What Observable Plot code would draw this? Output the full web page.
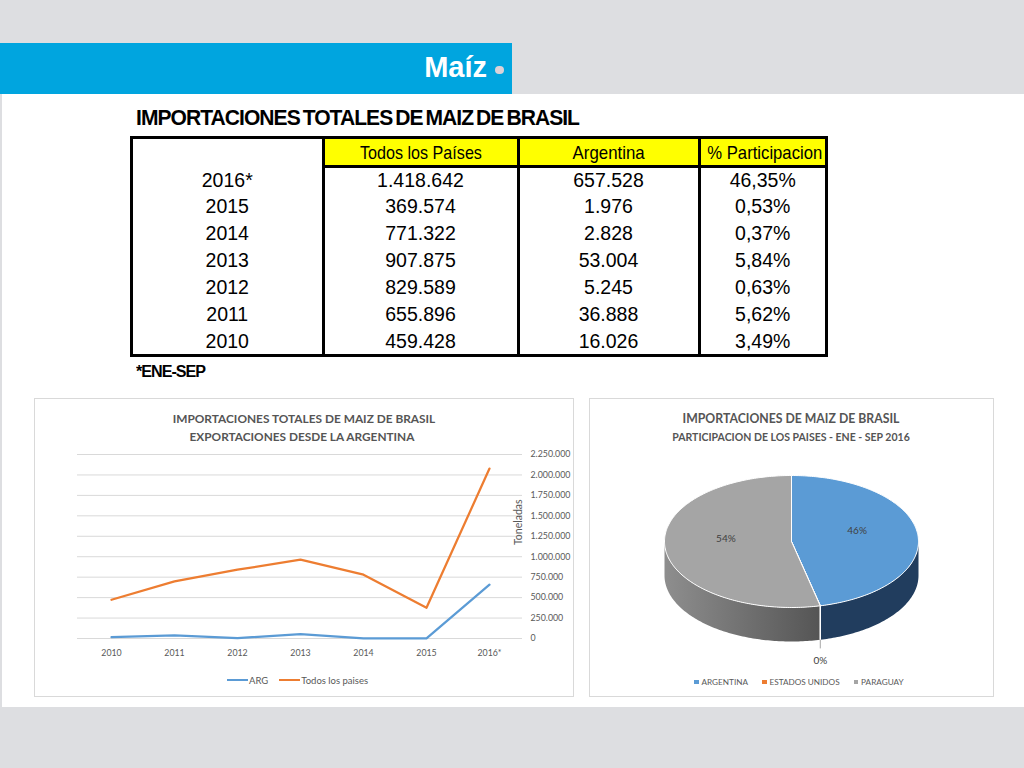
<!DOCTYPE html>
<html lang="es"><head><meta charset="utf-8">
<script src="https://cdn.jsdelivr.net/npm/d3@7"></script>
<script src="https://cdn.jsdelivr.net/npm/@observablehq/plot@0.6"></script>
<style>
html,body{margin:0;padding:0}
body{width:1024px;height:768px;position:relative;overflow:hidden;background:#dddee1;font-family:Lato,"Open Sans",sans-serif}
.a{position:absolute}
#white{left:2px;top:94px;width:1022px;height:613px;background:#fff}
#band{left:0;top:43px;width:512px;height:51px;background:#00a5df}
#maiz{top:53px;right:537px;font:bold 29px "Liberation Sans",Arial,sans-serif;color:#fff;line-height:29px;white-space:nowrap}
#dot{left:495px;top:65.5px;width:8.5px;height:8.5px;border-radius:50%;background:#dcd2d8}
#ttitle{left:136px;top:107px;font:bold 22px "Liberation Sans Narrow","Liberation Sans",sans-serif;letter-spacing:-1px;word-spacing:-2px;line-height:22px;white-space:nowrap;transform-origin:0 50%;color:#000}
#foot{left:136px;top:364px;font:bold 16px "Liberation Sans Narrow","Liberation Sans",sans-serif;letter-spacing:-1px;line-height:16px;white-space:nowrap;transform-origin:0 50%;color:#000}
#tbox{left:130px;top:136px;width:698px;height:221px;border:3px solid #000;box-sizing:border-box}
.hd{position:absolute;top:0;height:26px;background:#ffff00;text-align:center;font:18.5px "Liberation Sans",Arial,sans-serif;line-height:27px;color:#000;white-space:nowrap}
.hd span{display:inline-block;transform-origin:50% 50%}
.cell{position:absolute;text-align:center;font:19.5px "Liberation Sans",Arial,sans-serif;color:#000;white-space:nowrap}
.vd{position:absolute;top:0;width:3px;height:100%;background:#000}
.panel{border:1px solid #d9d9d9;box-sizing:border-box;background:#fff}
.ctitle{position:absolute;text-align:center;font-weight:bold;color:#555;white-space:nowrap;line-height:1}
.leg{position:absolute;display:flex;align-items:center;font-size:9.5px;color:#595959;white-space:nowrap}
.leg .ln{display:inline-block;width:21px;height:2.5px;margin-right:1px}
.leg .sq{display:inline-block;width:4.5px;height:4.5px;margin-right:3px}
svg{position:absolute}
</style>
</head>
<body>
<div id="white" class="a"></div>
<div id="band" class="a"></div>
<div id="maiz" class="a">Maíz</div>
<div id="dot" class="a"></div>
<div id="ttitle" class="a">IMPORTACIONES TOTALES DE MAIZ DE BRASIL</div>
<div id="tbox" class="a"></div>
<div id="foot" class="a">*ENE-SEP</div>
<div id="p1" class="a panel" style="left:34px;top:398px;width:540px;height:299px"></div>
<div id="p2" class="a panel" style="left:589px;top:398px;width:405px;height:299px"></div>
<script>
// ---------- DATA ----------
const tableHeaders = ["", "Todos los Países", "Argentina", "% Participacion"];
const tableYears = ["2016*", "2015", "2014", "2013", "2012", "2011", "2010"];
const tableTodos = [1418642, 369574, 771322, 907875, 829589, 655896, 459428];
const tableArg = [657528, 1976, 2828, 53004, 5245, 36888, 16026];
const tablePct = [46.35, 0.53, 0.37, 5.84, 0.63, 5.62, 3.49];

const chartYears = ["2010", "2011", "2012", "2013", "2014", "2015", "2016*"];
const argSerie = [16026, 36888, 5245, 53004, 2828, 1976, 657528];
const todosSerie = [474000, 698000, 841000, 964000, 780000, 376000, 2078000];
const seriesNames = ["ARG", "Todos los paises"];
const yTicks = [0, 250000, 500000, 750000, 1000000, 1250000, 1500000, 1750000, 2000000, 2250000];

const pieCountries = ["ARGENTINA", "ESTADOS UNIDOS", "PARAGUAY"];
const pieShares = [46.35, 0.02, 53.63];

// ---------- STYLES ----------
const lineColors = ["#5b9bd5", "#ed7d31"];
const pieColors = ["#5b9bd5", "#ed7d31", "#a5a5a5"];
const pieSideColors = ["#213d5e", "#8a4216", "url(#graySide)"];
const headerWidths = [0, 122, 72, 115];

const loc = d3.formatLocale({decimal: ",", thousands: ".", grouping: [3], currency: ["$", ""]});
const fmtInt = loc.format(",d");
const fmtPct = loc.format(".2f");

function fitScale(el, target) {
  const w = el.getBoundingClientRect().width;
  el.style.transform = `scaleX(${target / w})`;
}
function fitFont(el, target) {
  const fs = parseFloat(getComputedStyle(el).fontSize);
  const w = el.getBoundingClientRect().width;
  el.style.fontSize = (fs * target / w) + "px";
}

// ---------- TABLE ----------
fitScale(document.getElementById("ttitle"), 443);
fitScale(document.getElementById("foot"), 69);
const tbox = document.getElementById("tbox");
const colL = [0, 191.5, 386.5, 567.5], colR = [188.5, 383.5, 564.5, 692];
for (let j = 1; j < 4; j++) {
  const h = document.createElement("div");
  h.className = "hd";
  h.style.left = colL[j] + "px";
  h.style.width = (colR[j] - colL[j]) + "px";
  const s = document.createElement("span");
  s.textContent = tableHeaders[j];
  h.appendChild(s);
  tbox.appendChild(h);
  fitScale(s, headerWidths[j]);
}
const hl = document.createElement("div");
hl.style.cssText = `position:absolute;left:${colR[0]}px;top:26px;width:${692 - colR[0]}px;height:3px;background:#000`;
tbox.appendChild(hl);
[188.5, 383.5, 564.5].forEach(x => {
  const v = document.createElement("div");
  v.className = "vd"; v.style.left = x + "px";
  tbox.appendChild(v);
});
const rowH = 26.9, row0 = 27.5;
tableYears.forEach((yr, i) => {
  const vals = [yr, fmtInt(tableTodos[i]), fmtInt(tableArg[i]), fmtPct(tablePct[i]) + "%"];
  vals.forEach((t, j) => {
    const c = document.createElement("div");
    c.className = "cell";
    c.style.left = colL[j] + "px";
    c.style.width = (colR[j] - colL[j]) + "px";
    c.style.top = (row0 + i * rowH) + "px";
    c.style.height = rowH + "px";
    c.style.lineHeight = rowH + "px";
    c.textContent = t;
    tbox.appendChild(c);
  });
});

// ---------- LINE CHART ----------
function addTitle(text, cx, cy, size, target) {
  const d = document.createElement("div");
  d.className = "ctitle";
  d.style.fontSize = size + "px";
  d.textContent = text;
  document.body.appendChild(d);
  fitFont(d, target);
  const r = d.getBoundingClientRect();
  d.style.left = (cx - r.width / 2) + "px";
  d.style.top = (cy - r.height / 2) + "px";
}
addTitle("IMPORTACIONES TOTALES DE MAIZ DE BRASIL", 304, 419, 13, 263);
addTitle("EXPORTACIONES DESDE LA ARGENTINA", 302, 437, 13, 225);

const lineRows = chartYears.flatMap((y, i) => [
  {year: y, value: argSerie[i], serie: seriesNames[0]},
  {year: y, value: todosSerie[i], serie: seriesNames[1]}
]);
const line = Plot.plot({
  width: 540, height: 300,
  marginLeft: 43, marginRight: 52, marginTop: 56, marginBottom: 60,
  style: {fontFamily: "Lato, 'Open Sans', sans-serif", fontSize: "8.8px", color: "#595959", background: "transparent", overflow: "visible"},
  x: {type: "point", domain: chartYears, padding: 0.5, label: null},
  y: {domain: [0, 2250000], label: null},
  color: {domain: seriesNames, range: lineColors},
  marks: [
    Plot.ruleY(yTicks, {stroke: "#d9d9d9", strokeWidth: 1}),
    Plot.axisX({tickSize: 0, tickPadding: 11, label: null, fill: "#595959"}),
    Plot.axisY({anchor: "right", ticks: yTicks, tickSize: 0, tickPadding: 8, tickFormat: fmtInt, label: null, fill: "#595959"}),
    Plot.line(lineRows, {x: "year", y: "value", stroke: "serie", strokeWidth: 2.25, strokeLinejoin: "round"})
  ]
});
line.style.left = "34px"; line.style.top = "398px";
document.body.appendChild(line);

const ton = document.createElement("div");
ton.textContent = "Toneladas";
ton.style.cssText = "position:absolute;font-size:10.5px;color:#595959;white-space:nowrap;line-height:1";
document.body.appendChild(ton);
{
  const r = ton.getBoundingClientRect();
  ton.style.left = (518 - r.width / 2) + "px";
  ton.style.top = (522 - r.height / 2) + "px";
  ton.style.transform = "rotate(-90deg)";
}

const leg1 = document.createElement("div");
leg1.className = "leg";
leg1.style.left = "227px"; leg1.style.top = "673px"; leg1.style.height = "14px";
leg1.innerHTML = seriesNames.map((s, i) =>
  `<span class="ln" style="background:${lineColors[i]}"></span><span style="margin-right:${i === 0 ? 11 : 0}px">${s}</span>`).join("");
document.body.appendChild(leg1);

// ---------- PIE CHART ----------
addTitle("IMPORTACIONES DE MAIZ DE BRASIL", 791, 419, 13, 217);
addTitle("PARTICIPACION DE LOS PAISES - ENE - SEP 2016", 791, 437, 11, 238);

const pieData = pieCountries.map((c, i) => ({country: c, share: pieShares[i]}));
const arcs = d3.pie().sort(null).value(d => d.share)(pieData);
const D = 34 / 66; // depth relative to vertical radius
const step = Math.PI / 180;
function arcAngles(a0, a1) {
  const n = Math.max(2, Math.ceil((a1 - a0) / step) + 1);
  return d3.range(n).map(k => a0 + (a1 - a0) * k / (n - 1));
}
const tops = arcs.flatMap(a => {
  const c = a.data.country;
  return [{country: c, x: 0, y: 0},
    ...arcAngles(a.startAngle, a.endAngle).map(t => ({country: c, x: Math.sin(t), y: -Math.cos(t)})),
    {country: c, x: 0, y: 0}];
});
const sides = arcs.flatMap(a => {
  const lo = Math.max(a.startAngle, Math.PI / 2), hi = Math.min(a.endAngle, 3 * Math.PI / 2);
  if (hi <= lo) return [];
  const ts = arcAngles(lo, hi);
  const c = a.data.country;
  return [...ts.map(t => ({country: c, x: Math.sin(t), y: -Math.cos(t)})),
    ...ts.slice().reverse().map(t => ({country: c, x: Math.sin(t), y: -Math.cos(t) + D}))];
});
const edges = arcs.slice(1).map(a => ({x: Math.sin(a.startAngle), y1: -Math.cos(a.startAngle), y2: -Math.cos(a.startAngle) + D}));
const labels = arcs.map(a => {
  const m = (a.startAngle + a.endAngle) / 2;
  const inside = a.data.share >= 5;
  return {
    label: Math.round(a.data.share) + "%", inside,
    x: inside ? 0.52 * Math.sin(m) : Math.sin(m),
    y: inside ? -0.52 * Math.cos(m) - 0.1 : 1.8,
    ly1: -Math.cos(m) + D, ly2: 1.62
  };
});

const pie = Plot.plot({
  width: 405, height: 299, margin: 0,
  style: {fontFamily: "Lato, 'Open Sans', sans-serif", background: "transparent", overflow: "visible"},
  x: {domain: [-1, 1], range: [75, 329], axis: null},
  y: {domain: [-1, 1], range: [77, 209], axis: null},
  color: {domain: pieCountries, range: pieColors},
  marks: [
    ...pieCountries.map((c, i) => Plot.line(sides, {filter: d => d.country === c, x: "x", y: "y", fill: pieSideColors[i], stroke: "none", curve: "linear"})),
    Plot.link(edges, {x1: "x", x2: "x", y1: "y1", y2: "y2", stroke: "#ffffff", strokeWidth: 1.2}),
    Plot.line(tops, {x: "x", y: "y", z: "country", fill: "country", stroke: "#ffffff", strokeWidth: 1, strokeLinejoin: "round"}),
    Plot.link(labels.filter(d => !d.inside), {x1: "x", x2: "x", y1: "ly1", y2: "ly2", stroke: "#a6a6a6", strokeWidth: 1}),
    Plot.text(labels, {x: "x", y: "y", text: "label", fill: "#404040", fontSize: 10, textAnchor: "middle"})
  ]
});
const defs = d3.select(pie).insert("defs", ":first-child");
const grad = defs.append("linearGradient").attr("id", "graySide").attr("x1", "0").attr("x2", "1").attr("y1", "0").attr("y2", "0");
grad.append("stop").attr("offset", "0%").attr("stop-color", "#8e8e8e");
grad.append("stop").attr("offset", "100%").attr("stop-color", "#555555");
pie.style.left = "589px"; pie.style.top = "398px";
document.body.appendChild(pie);

const leg2 = document.createElement("div");
leg2.className = "leg";
leg2.style.left = "694px"; leg2.style.top = "675px"; leg2.style.height = "14px"; leg2.style.fontSize = "8.2px";
leg2.innerHTML = pieCountries.map((c, i) =>
  `<span class="sq" style="background:${pieColors[i]}"></span><span style="margin-right:${i < 2 ? 14 : 0}px">${c}</span>`).join("");
document.body.appendChild(leg2);
</script>
</body></html>
